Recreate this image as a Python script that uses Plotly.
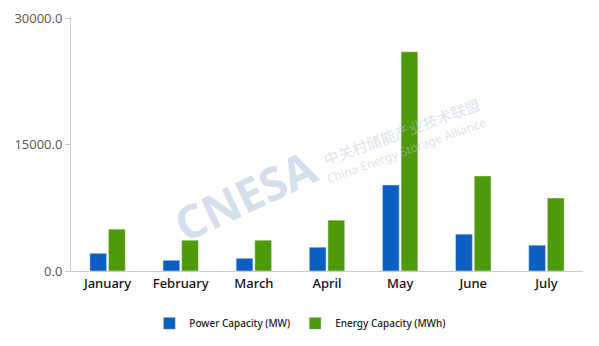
import plotly.graph_objects as go

months = ["January", "February", "March", "April", "May", "June", "July"]
power_mw = [2100, 1270, 1510, 2820, 10200, 4370, 3060]
energy_mwh = [4960, 3650, 3650, 6030, 26000, 11270, 8650]
y_ticks = [0, 15000, 30000]

fig = go.Figure()
fig.add_trace(go.Bar(x=months, y=power_mw, name="Power Capacity (MW)", marker_color="#0b5fc1"))
fig.add_trace(go.Bar(x=months, y=energy_mwh, name="Energy Capacity (MWh)", marker_color="#4f9a0a"))

# watermark
wm = "rgba(185,200,222,0.6)"
fig.add_annotation(text="<b>CNESA</b>", x=0.34, y=0.30, xref="paper", yref="paper", showarrow=False,
                   xanchor="center", yanchor="middle",
                   textangle=-25, font=dict(size=46, color=wm, family="Open Sans"))
fig.add_annotation(text="中关村储能产业技术联盟", x=0.645, y=0.553, xref="paper", yref="paper", showarrow=False,
                   xanchor="center", yanchor="middle",
                   textangle=-20, font=dict(size=15, color="rgba(185,200,222,0.5)", family="Noto Sans CJK SC"))
fig.add_annotation(text="China Energy Storage Alliance", x=0.654, y=0.478, xref="paper", yref="paper", showarrow=False,
                   xanchor="center", yanchor="middle",
                   textangle=-20, font=dict(size=12, color="rgba(185,200,222,0.5)", family="Noto Sans"))

fig.update_layout(
    width=599, height=346,
    margin=dict(l=71, r=16, t=18, b=75, autoexpand=False),
    paper_bgcolor="white", plot_bgcolor="white",
    barmode="group", bargap=0.49, bargroupgap=0.1,
    font=dict(family="Noto Sans"),
    showlegend=True,
    legend=dict(orientation="h", x=0.447, xanchor="center", y=-0.207, yanchor="middle",
                font=dict(size=10, color="#222", weight=500), itemwidth=30, traceorder="normal"),
    xaxis=dict(showline=True, linecolor="#cccccc", linewidth=1, ticks="", automargin=False,
               tickfont=dict(size=13, color="#111", family="Noto Sans", weight=500), showgrid=False),
    yaxis=dict(range=[0, 30000], tickvals=y_ticks, tickformat=".1f", showline=True, automargin=False,
               linecolor="#cccccc", linewidth=1, ticks="outside", ticklen=5, tickcolor="#cccccc",
               showgrid=False, zeroline=False, tickfont=dict(size=13, color="#555", family="Open Sans")),
)
fig.write_html("out.html")
